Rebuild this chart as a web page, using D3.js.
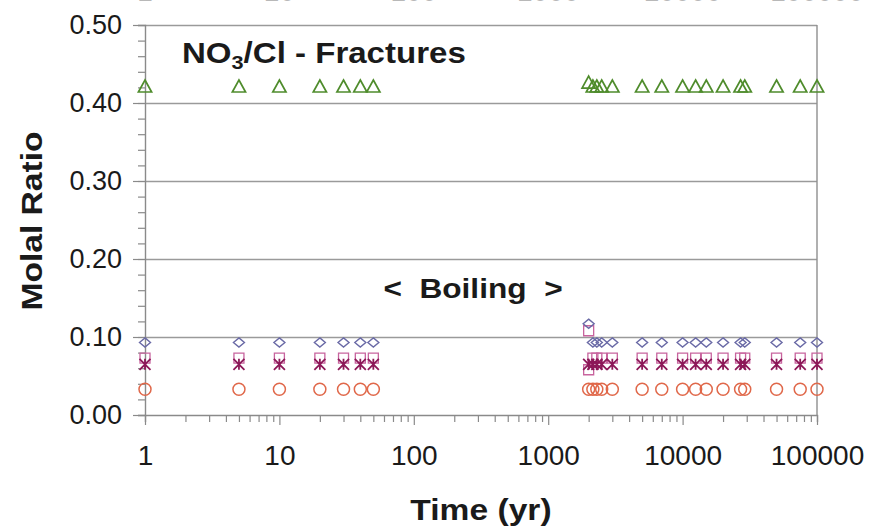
<!DOCTYPE html>
<html>
<head>
<meta charset="utf-8">
<script src="https://cdn.jsdelivr.net/npm/d3@7"></script>
<style>
  html, body { margin: 0; padding: 0; background: #fff; }
  svg { display: block; font-family: "Liberation Sans", Arial, Helvetica, sans-serif; }
</style>
</head>
<body>
<svg id="chart" width="872" height="530"></svg>
<script>
// Time points (years) of the model output
const timesEarly = [1, 5, 10, 20, 30, 40, 50];
const timesLate = [2000, 2150, 2300, 2500, 3000, 5000, 7000, 10000, 12500, 15000, 20000, 27000, 29000, 50000, 75000, 100000];

// NO3/Cl molal ratio for each run, early then late time points
const triangleEarly = [0.421, 0.421, 0.421, 0.421, 0.421, 0.421, 0.421];
const triangleLate  = [0.426, 0.421, 0.421, 0.421, 0.421, 0.421, 0.421, 0.421, 0.421, 0.421, 0.421, 0.421, 0.421, 0.421, 0.421, 0.421];
const diamondEarly  = [0.093, 0.093, 0.093, 0.093, 0.093, 0.093, 0.093];
const diamondLate   = [0.117, 0.093, 0.093, 0.093, 0.093, 0.093, 0.093, 0.093, 0.093, 0.093, 0.093, 0.093, 0.093, 0.093, 0.093, 0.093];
const squareEarly   = [0.073, 0.073, 0.073, 0.073, 0.073, 0.073, 0.073];
const squareLate    = [0.108, 0.073, 0.073, 0.073, 0.073, 0.073, 0.073, 0.073, 0.073, 0.073, 0.073, 0.073, 0.073, 0.073, 0.073, 0.073];
const squareExtraTimes = [2000];
const squareExtra      = [0.058];
const starEarly     = [0.065, 0.065, 0.065, 0.065, 0.065, 0.065, 0.065];
const starLate      = [0.065, 0.065, 0.065, 0.065, 0.065, 0.065, 0.065, 0.065, 0.065, 0.065, 0.065, 0.065, 0.065, 0.065, 0.065, 0.065];
const circleEarly   = [0.033, 0.033, 0.033, 0.033, 0.033, 0.033, 0.033];
const circleLate    = [0.033, 0.033, 0.033, 0.033, 0.033, 0.033, 0.033, 0.033, 0.033, 0.033, 0.033, 0.033, 0.033, 0.033, 0.033, 0.033];

// Axis ticks
const xTickValues = [1, 10, 100, 1000, 10000, 100000];
const xTickLabels = ["1", "10", "100", "1000", "10000", "100000"];
const yTickValues = [0, 0.1, 0.2, 0.3, 0.4, 0.5];
const yTickLabels = ["0.00", "0.10", "0.20", "0.30", "0.40", "0.50"];

const svg = d3.select("#chart");
const W = 872, H = 530;
const margin = { left: 145, right: 55, top: 25, bottom: 115 };
const plotL = margin.left, plotR = W - margin.right, plotT = margin.top, plotB = H - margin.bottom;

const x = d3.scaleLog().domain([1, 100000]).range([plotL, plotR]);
const y = d3.scaleLinear().domain([0, 0.5]).range([plotB, plotT]);

const axisColor = "#8a8a8a";
const textColor = "#1a1a1a";

// Horizontal grid lines and frame
svg.append("g")
  .attr("transform", `translate(${plotL},0)`)
  .call(d3.axisLeft(y).tickValues(yTickValues.slice(1)).tickSize(-(plotR - plotL)).tickFormat(""))
  .call(g => g.select(".domain").remove())
  .call(g => g.selectAll("line").attr("stroke", "#9a9a9a").attr("stroke-width", 1.4));

svg.append("line")
  .attr("x1", plotR).attr("x2", plotR).attr("y1", plotT).attr("y2", plotB)
  .attr("stroke", "#8f8f8f").attr("stroke-width", 1.4);

// Y axis: minor ticks every 0.02, major ticks with labels every 0.10
const yMinor = d3.range(0, 0.5001, 0.02);
svg.append("g")
  .attr("transform", `translate(${plotL},0)`)
  .call(d3.axisLeft(y).tickValues(yMinor).tickSize(7).tickFormat(""))
  .call(g => g.select(".domain").attr("stroke", axisColor).attr("stroke-width", 1.4))
  .call(g => g.selectAll("line").attr("stroke", axisColor).attr("stroke-width", 1.2));

svg.append("g")
  .attr("transform", `translate(${plotL},0)`)
  .call(d3.axisLeft(y).tickValues(yTickValues).tickSize(12).tickPadding(11)
    .tickFormat((d, i) => yTickLabels[i]))
  .call(g => g.select(".domain").remove())
  .call(g => g.selectAll("line").attr("stroke", axisColor).attr("stroke-width", 1.2))
  .call(g => g.selectAll("text").attr("font-size", 27).attr("fill", textColor)
    .attr("font-family", "'Liberation Sans', Arial, sans-serif"));

// X axis: log minor ticks and decade labels
const xMinor = [];
xTickValues.slice(0, -1).forEach(dec => { for (let k = 2; k <= 9; k++) xMinor.push(dec * k); });

svg.append("g")
  .attr("transform", `translate(0,${plotB})`)
  .call(d3.axisBottom(x).tickValues(xMinor).tickSize(7).tickFormat(""))
  .call(g => g.select(".domain").attr("stroke", axisColor).attr("stroke-width", 1.4))
  .call(g => g.selectAll("line").attr("stroke", axisColor).attr("stroke-width", 1.2));

svg.append("g")
  .attr("transform", `translate(0,${plotB})`)
  .call(d3.axisBottom(x).tickValues(xTickValues).tickSize(10).tickPadding(27)
    .tickFormat((d, i) => xTickLabels[i]))
  .call(g => g.select(".domain").remove())
  .call(g => g.selectAll("line").attr("stroke", axisColor).attr("stroke-width", 1.2))
  .call(g => g.selectAll("text").attr("font-size", 28).attr("fill", textColor).attr("dy", "0.45em"));

// Mirrored decade labels along the top edge (only their lower edge falls inside the page)
svg.append("g")
  .selectAll("text")
  .data(xTickValues)
  .join("text")
  .attr("x", d => x(d))
  .attr("y", 1)
  .attr("text-anchor", "middle")
  .attr("font-size", 28)
  .attr("fill", "#b8b8b8")
  .text((d, i) => xTickLabels[i]);

// Markers
const symbolPaths = {
  triangle: s => `M0,${-s * 0.55}L${s * 0.55},${s * 0.45}L${-s * 0.55},${s * 0.45}Z`,
  diamond: s => `M0,${-s * 0.42}L${s * 0.5},0L0,${s * 0.42}L${-s * 0.5},0Z`,
  square: s => `M${-s / 2},${-s / 2}H${s / 2}V${s / 2}H${-s / 2}Z`,
  star: s => `M${-s / 2},${-s / 2}L${s / 2},${s / 2}M${s / 2},${-s / 2}L${-s / 2},${s / 2}M0,${-s / 2}V${s / 2}`,
};

function pairs(ts, vs) { return ts.map((t, i) => ({ t, v: vs[i] })); }

const series = [
  { name: "square", color: "#c8649e", size: 10, width: 1.3, data: pairs(timesEarly, squareEarly).concat(pairs(timesLate, squareLate), pairs(squareExtraTimes, squareExtra)) },
  { name: "circle", color: "#e0684a", size: 12, width: 1.5, data: pairs(timesEarly, circleEarly).concat(pairs(timesLate, circleLate)) },
  { name: "star", color: "#8c1858", size: 11, width: 1.8, data: pairs(timesEarly, starEarly).concat(pairs(timesLate, starLate)) },
  { name: "diamond", color: "#6a6aa6", size: 11, width: 1.4, data: pairs(timesEarly, diamondEarly).concat(pairs(timesLate, diamondLate)) },
  { name: "triangle", color: "#4f8c2c", size: 12, width: 1.7, data: pairs(timesEarly, triangleEarly).concat(pairs(timesLate, triangleLate)) },
];

series.forEach(s => {
  const g = svg.append("g").attr("class", "series-" + s.name);
  if (s.name === "circle") {
    g.selectAll("circle").data(s.data).join("circle")
      .attr("cx", d => x(d.t)).attr("cy", d => y(d.v)).attr("r", s.size / 2)
      .attr("fill", "none").attr("stroke", s.color).attr("stroke-width", s.width);
  } else {
    g.selectAll("path").data(s.data).join("path")
      .attr("transform", d => `translate(${x(d.t)},${y(d.v)})`)
      .attr("d", symbolPaths[s.name](s.size))
      .attr("fill", "none").attr("stroke", s.color).attr("stroke-width", s.width);
  }
});

// Text helper: bold labels drawn slightly wide
function wideText(px, py, str, size, widthScale, anchor, rotate) {
  const g = svg.append("g").attr("transform", `translate(${px},${py})${rotate ? " rotate(" + rotate + ")" : ""} scale(${widthScale},1)`);
  const t = g.append("text").attr("font-size", size).attr("font-weight", "bold")
    .attr("fill", textColor).attr("text-anchor", anchor || "start");
  return t;
}

// Title with subscript
const title = wideText(182, 63, "", 29, 1.14, "start");
title.append("tspan").text("NO");
title.append("tspan").text("3").attr("font-size", 19).attr("dy", 6);
title.append("tspan").text("/Cl - Fractures").attr("dy", -6);

// Boiling period annotation
wideText(473, 298, "", 28, 1.13, "middle").attr("xml:space", "preserve").text("<  Boiling  >");

// Axis titles
wideText(481, 520, "", 30, 1.12, "middle").text("Time (yr)");
wideText(42, 221, "", 30, 1.12, "middle", -90).text("Molal Ratio");
</script>
</body>
</html>
